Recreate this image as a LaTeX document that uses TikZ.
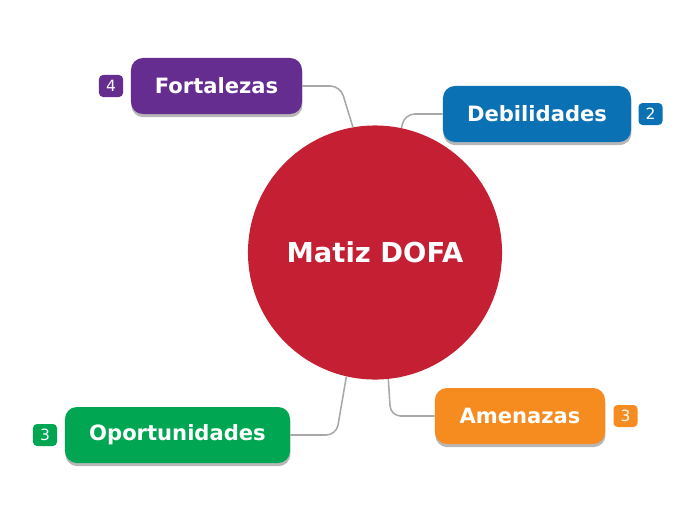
\documentclass[tikz,border=0pt]{standalone}
\usepackage{fontspec}
\setmainfont{DejaVu Sans}
\usetikzlibrary{positioning, shadows}
\definecolor{cred}{HTML}{C41F33}
\definecolor{cpurple}{HTML}{662D91}
\definecolor{cblue}{HTML}{0A72B4}
\definecolor{corange}{HTML}{F68B1F}
\definecolor{cgreen}{HTML}{00A651}
\definecolor{clink}{HTML}{A8A8A8}
\tikzset{
  hub/.style={circle, fill=cred, text=white, inner sep=0pt, minimum size=6.35cm, font=\bfseries\fontsize{19.5}{22}\selectfont},
  branch/.style={fill=#1, text=white, rounded corners=0.3cm, minimum height=1.4cm, font=\bfseries\fontsize{15}{18}\selectfont,
    drop shadow={opacity=0.4, fill=black!70, shadow xshift=0.01cm, shadow yshift=-0.08cm}},
  branch/.default=cpurple,
  badge/.style={fill=#1, text=white, rounded corners=0.1cm, minimum width=0.6cm, minimum height=0.55cm, inner sep=0pt, font=\fontsize{11}{13}\selectfont},
  link/.style={draw=clink, line width=1.1pt, rounded corners=0.25cm},
}
\begin{document}
\begin{tikzpicture}[x=0.025cm, y=-0.025cm]
  \useasboundingbox (0,0) rectangle (696,520);
  \node[hub] (hub) at (375,252.5) {Matiz DOFA};
  \node[branch=cpurple, minimum width=4.275cm] (fort)   at (216.5,86)  {Fortalezas};
  \node[branch=cblue,   minimum width=4.7cm]   (deb)    at (537,114)   {Debilidades};
  \node[branch=corange, minimum width=4.25cm]  (amen)   at (520,416)   {Amenazas};
  \node[branch=cgreen,  minimum width=5.625cm] (oport)  at (177.5,435) {Oportunidades};
  \node[badge=cpurple] (nfort)  at (111,86)    {4};
  \node[badge=cblue]   (ndeb)   at (650.5,114) {2};
  \node[badge=corange] (namen)  at (625.5,416) {3};
  \node[badge=cgreen]  (noport) at (45,435)    {3};
  \draw[link] (fort.east) -- ++(38,0) -- (hub.100);
  \draw[link] (deb.west) -- ++(-38,0) -- (hub.78);
  \draw[link] (amen.west) -- ++(-44,0) -- (hub.-84);
  \draw[link] (oport.east) -- ++(46,0) -- (hub.-103);
\end{tikzpicture}
\end{document}
